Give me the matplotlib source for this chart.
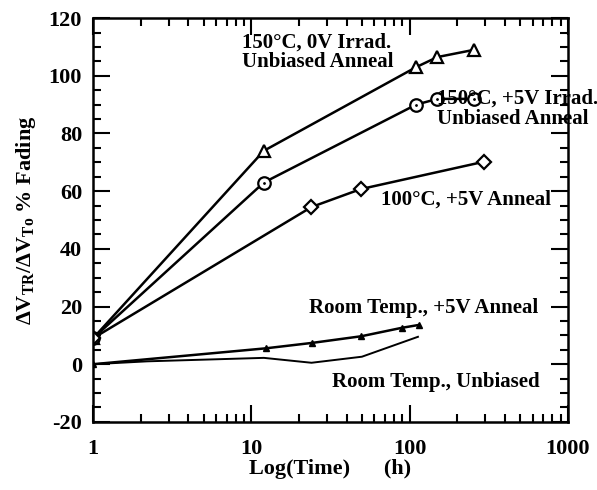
import numpy as np
import matplotlib
matplotlib.use("Agg")
import matplotlib.pyplot as plt
from matplotlib.ticker import MultipleLocator, LogLocator, NullFormatter

plt.rcParams['font.family'] = ['Liberation Serif', 'DejaVu Serif']
plt.rcParams['mathtext.fontset'] = 'custom'
plt.rcParams['mathtext.rm'] = 'Liberation Serif'
plt.rcParams['mathtext.bf'] = 'Liberation Serif:bold'
plt.rcParams['axes.unicode_minus'] = False

# 150C, 0V irrad, unbiased anneal
t_tri = [1, 12, 110, 150, 255]
y_tri = [9, 74, 103, 106.5, 109]
# 150C, +5V irrad, unbiased anneal
t_circ = [1, 12, 110, 150, 255]
y_circ = [9, 63, 90, 92, 92]
# 100C, +5V anneal
t_diam = [1, 24, 49, 295]
y_diam = [9, 54.5, 60.7, 70.2]
# room temp, +5V anneal
t_rt5 = [1, 12.3, 24.3, 49.6, 89, 114]
y_rt5 = [0, 5.5, 7.4, 9.7, 12.6, 13.6]
# room temp, unbiased
t_rtu = [1, 2.2, 12, 24, 50, 113]
y_rtu = [0, 1.0, 2.2, 0.5, 2.6, 9.5]

fig = plt.figure(figsize=(5.97, 4.90), dpi=100)
ax = fig.add_axes([0.156, 0.139, 0.795, 0.824])

lw = 1.8
ax.plot(t_tri, y_tri, '-', color='black', lw=lw, marker='^', ms=8, mfc='white', mec='black', mew=1.6)
ax.plot(t_circ, y_circ, '-', color='black', lw=lw, marker='o', ms=9, mfc='white', mec='black', mew=1.6)
ax.plot(t_circ[1:], y_circ[1:], ' ', marker='.', ms=2, color='black')
ax.plot(t_diam, y_diam, '-', color='black', lw=lw, marker='D', ms=7, mfc='white', mec='black', mew=1.6)
ax.plot(t_rt5, y_rt5, '-', color='black', lw=lw, marker='^', ms=5, mfc='black', mec='black')
ax.plot(t_rtu, y_rtu, '-', color='black', lw=1.4)

ax.set_xscale('log')
ax.set_xlim(1, 1000)
ax.set_ylim(-20, 120)
ax.yaxis.set_major_locator(MultipleLocator(20))
ax.yaxis.set_minor_locator(MultipleLocator(5))
ax.xaxis.set_major_locator(LogLocator(base=10))
ax.xaxis.set_minor_locator(LogLocator(base=10, subs=np.arange(2, 10)))
ax.xaxis.set_minor_formatter(NullFormatter())
ax.set_xticks([1, 10, 100, 1000])
ax.set_xticklabels(['1', '10', '100', '1000'])

ax.tick_params(which='both', direction='in', top=True, right=True, width=1.5)
ax.tick_params(which='major', length=12)
ax.tick_params(which='minor', length=6)
ax.tick_params(axis='x', which='major', pad=12)
ax.tick_params(axis='y', which='major', pad=8)
for lab in ax.get_xticklabels() + ax.get_yticklabels():
    lab.set_fontsize(16)
    lab.set_fontweight('bold')
for s in ax.spines.values():
    s.set_linewidth(1.8)

ax.set_xlabel('Log(Time)      (h)', fontsize=16, fontweight='bold', labelpad=0)
ax.set_ylabel(r'$\mathbf{\Delta V_{TR}/\Delta V_{To}}$ % Fading', fontsize=16, fontweight='bold', labelpad=8)

fs = 15
ax.text(0.314, 0.915, '150°C, 0V Irrad.\nUnbiased Anneal', transform=ax.transAxes,
        fontsize=fs, fontweight='bold', ha='left', va='center', linespacing=1.0)
ax.text(0.724, 0.775, '150°C, +5V Irrad.\nUnbiased Anneal', transform=ax.transAxes,
        fontsize=fs, fontweight='bold', ha='left', va='center', linespacing=1.0, clip_on=False)
ax.text(0.606, 0.550, '100°C, +5V Anneal', transform=ax.transAxes,
        fontsize=fs, fontweight='bold', ha='left', va='center')
ax.text(0.455, 0.282, 'Room Temp., +5V Anneal', transform=ax.transAxes,
        fontsize=fs, fontweight='bold', ha='left', va='center')
ax.text(0.503, 0.099, 'Room Temp., Unbiased', transform=ax.transAxes,
        fontsize=fs, fontweight='bold', ha='left', va='center')

fig.savefig('out.png', dpi=100)
